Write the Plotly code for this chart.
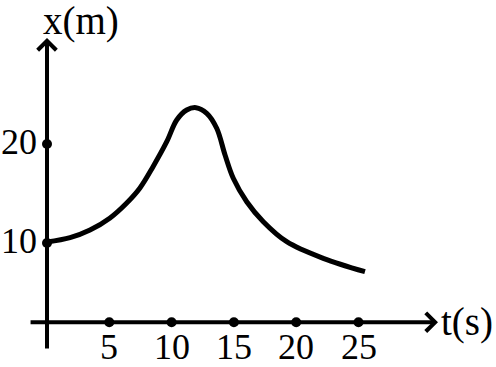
import plotly.graph_objects as go

# ---- data ----
t_values = [0.0, 1.85, 3.45, 5.06, 6.40, 7.46, 8.51, 9.61, 10.41, 11.21, 11.96,
            12.82, 13.62, 14.29, 14.95, 16.03, 17.36, 19.24, 22.17, 25.52]
x_values = [10.1, 10.54, 11.31, 12.53, 14.04, 15.56, 17.71, 20.23, 22.42, 23.43, 23.67,
            23.1, 21.59, 18.89, 16.54, 14.17, 12.15, 10.13, 8.45, 7.10]

t_ticks = [5, 10, 15, 20, 25]
t_tick_labels = ["5", "10", "15", "20", "25"]
x_ticks = [10, 20]
x_tick_labels = ["10", "20"]

# ---- layout constants ----
W, H = 496, 367
T_RANGE = [-47 / 12.46, (W - 47) / 12.46]
X_RANGE = [10 - (H - 243) / 9.9, 10 + 243 / 9.9]
T_AXIS_LEVEL = 2.0      # where the horizontal axis is drawn
T_AXIS_FROM, T_AXIS_TO = -1.44, 31.38
X_AXIS_FROM, X_AXIS_TO = -0.81, 30.7
FONT = "Liberation Serif, Times New Roman, serif"
FS = 36
FS_TITLE = 39

fig = go.Figure()

fig.add_trace(go.Scatter(
    x=t_values, y=x_values, mode="lines",
    line=dict(color="black", width=5, shape="spline", smoothing=1.0),
    hoverinfo="skip", showlegend=False))

# tick dots on the t axis and x axis
fig.add_trace(go.Scatter(
    x=t_ticks, y=[T_AXIS_LEVEL] * len(t_ticks), mode="markers",
    marker=dict(color="black", size=10), showlegend=False, hoverinfo="skip"))
fig.add_trace(go.Scatter(
    x=[0] * len(x_ticks), y=x_ticks, mode="markers",
    marker=dict(color="black", size=10), showlegend=False, hoverinfo="skip"))

ann = []
# axes drawn as arrows
ann.append(dict(x=T_AXIS_TO, y=T_AXIS_LEVEL, ax=T_AXIS_FROM, ay=T_AXIS_LEVEL,
                xref="x", yref="y", axref="x", ayref="y", text="",
                showarrow=True, arrowhead=4, arrowwidth=4, arrowsize=0.9,
                arrowcolor="black", standoff=0, startstandoff=0))
ann.append(dict(x=0, y=X_AXIS_TO, ax=0, ay=X_AXIS_FROM,
                xref="x", yref="y", axref="x", ayref="y", text="",
                showarrow=True, arrowhead=4, arrowwidth=4, arrowsize=0.9,
                arrowcolor="black", standoff=0, startstandoff=0))

for tv, lab in zip(t_ticks, t_tick_labels):
    ann.append(dict(x=tv, y=T_AXIS_LEVEL, xref="x", yref="y", text=lab,
                    showarrow=False, xanchor="center", yanchor="top", yshift=-3,
                    font=dict(family=FONT, size=FS, color="black")))
for xv, lab in zip(x_ticks, x_tick_labels):
    ann.append(dict(x=0, y=xv, xref="x", yref="y", text=lab,
                    showarrow=False, xanchor="right", yanchor="middle",
                    xshift=-8, yshift=2,
                    font=dict(family=FONT, size=FS, color="black")))

ann.append(dict(x=81 / W, y=1 - 21 / H, xref="paper", yref="paper",
                text="x(m)", showarrow=False, xanchor="center", yanchor="middle",
                font=dict(family=FONT, size=FS_TITLE, color="black")))
ann.append(dict(x=439 / W, y=1 - 322 / H, xref="paper", yref="paper",
                text="t(s)", showarrow=False, xanchor="left", yanchor="middle",
                font=dict(family=FONT, size=FS_TITLE, color="black")))

fig.update_layout(
    width=W, height=H,
    margin=dict(l=0, r=0, t=0, b=0),
    paper_bgcolor="white", plot_bgcolor="white",
    xaxis=dict(range=T_RANGE, visible=False, fixedrange=True),
    yaxis=dict(range=X_RANGE, visible=False, fixedrange=True),
    annotations=ann,
    showlegend=False,
)

# remove the page's default body margin so the figure fills the window
fig.write_html("out.html",
               config={"displayModeBar": False, "staticPlot": True},
               post_script="document.body.style.margin='0';document.body.style.overflow='hidden';")
